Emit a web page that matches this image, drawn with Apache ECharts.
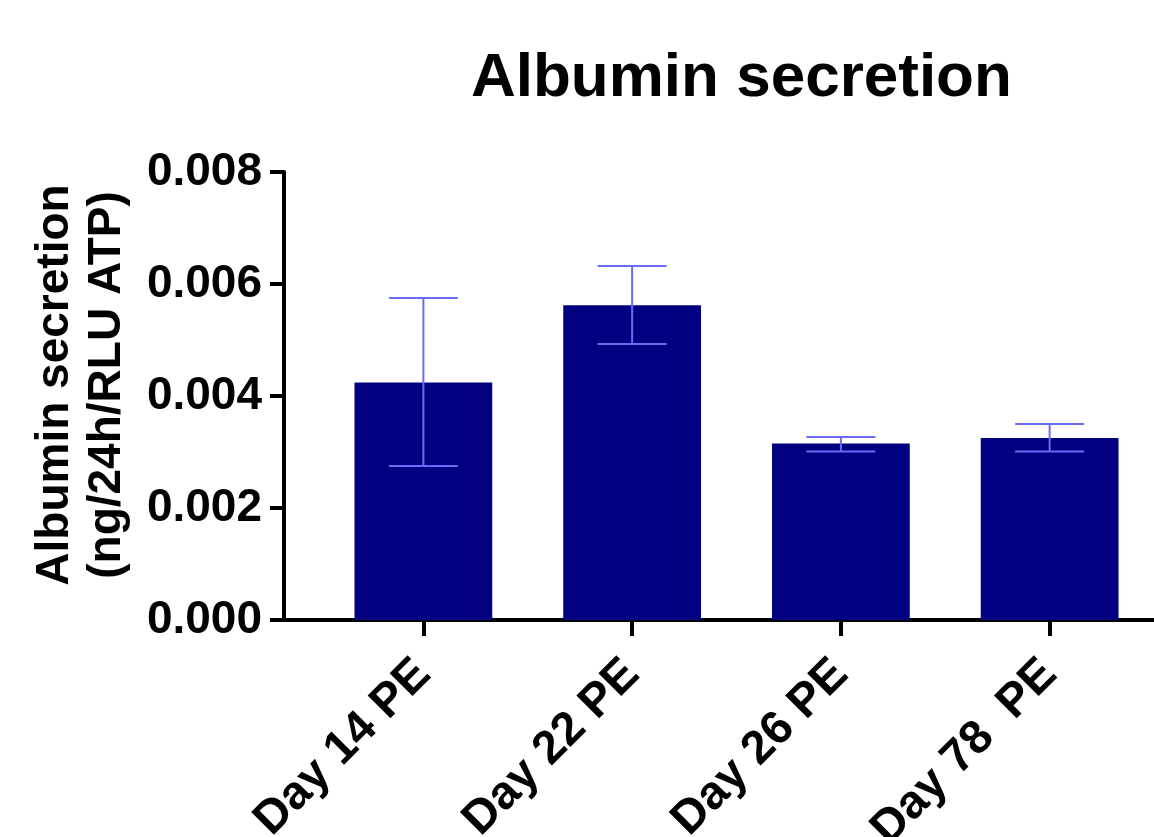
<!DOCTYPE html>
<html>
<head>
<meta charset="utf-8">
<script src="https://cdn.jsdelivr.net/npm/echarts@6/dist/echarts.min.js"></script>
<style>html,body{margin:0;padding:0;background:#fff}#c{width:1154px;height:837px}</style>
</head>
<body>
<div id="c"></div>
<script>
const categories = ['Day 14 PE', 'Day 22 PE', 'Day 26 PE', 'Day 78  PE'];
const meanValues = [0.00424, 0.00562, 0.00315, 0.00325];
const errLow = [0.00275, 0.00493, 0.00301, 0.00301];
const errHigh = [0.00575, 0.00632, 0.00327, 0.00350];
const yTicks = [0, 0.002, 0.004, 0.006, 0.008];

const FONT = '"Liberation Sans", Arial, sans-serif';
const GRID_LEFT = 319, Y_OFFSET = 35;

const chart = echarts.init(document.getElementById('c'), null, {renderer: 'canvas'});
const errData = categories.map((c, i) => [i, errLow[i], errHigh[i]]);

chart.setOption({
  animation: false,
  backgroundColor: '#fff',
  title: {
    text: 'Albumin secretion',
    left: 466, top: 43,
    textStyle: {fontFamily: FONT, fontWeight: 'bold', fontSize: 62, color: '#000'}
  },
  grid: {left: GRID_LEFT, right: 0, top: 172, bottom: 217, containLabel: false, outerBoundsMode: 'none'},
  xAxis: {
    type: 'category',
    data: categories,
    axisLine: {show: true, lineStyle: {color: '#000', width: 4}},
    axisTick: {show: true, alignWithLabel: true, length: 16, lineStyle: {color: '#000', width: 4}},
    axisLabel: {rotate: 45, margin: 47, fontFamily: FONT, fontWeight: 'bold', fontSize: 47, color: '#000', interval: 0}
  },
  yAxis: {
    type: 'value',
    min: yTicks[0], max: yTicks[yTicks.length - 1], interval: yTicks[1] - yTicks[0],
    offset: Y_OFFSET,
    name: 'Albumin secretion\n(ng/24h/RLU ATP)',
    nameLocation: 'middle',
    nameGap: 151,
    nameTextStyle: {fontFamily: FONT, fontWeight: 'bold', fontSize: 46, color: '#000', lineHeight: 52,
      padding: [0, 0, 0, 22]},
    axisLine: {show: true, lineStyle: {color: '#000', width: 4}},
    axisTick: {show: true, length: 14, lineStyle: {color: '#000', width: 4}},
    splitLine: {show: false},
    axisLabel: {margin: 22, fontFamily: FONT, fontWeight: 'bold', fontSize: 46, color: '#000',
      formatter: v => v.toFixed(3)}
  },
  series: [
    {
      type: 'bar',
      data: meanValues,
      barWidth: '66%',
      itemStyle: {color: '#000080'}
    },
    {
      type: 'custom',
      data: errData,
      z: 10,
      renderItem: function (params, api) {
        const i = api.value(0);
        const lo = api.coord([i, api.value(1)]);
        const hi = api.coord([i, api.value(2)]);
        const half = api.size([1, 0])[0] * 0.165;
        const style = {stroke: '#6a6af8', lineWidth: 2};
        return {
          type: 'group',
          children: [
            {type: 'line', shape: {x1: lo[0], y1: lo[1], x2: hi[0], y2: hi[1]}, style},
            {type: 'line', shape: {x1: lo[0] - half, y1: lo[1], x2: lo[0] + half, y2: lo[1]}, style},
            {type: 'line', shape: {x1: hi[0] - half, y1: hi[1], x2: hi[0] + half, y2: hi[1]}, style}
          ]
        };
      }
    }
  ]
});

// extend the x axis line left to meet the offset y axis
const y0 = chart.convertToPixel({yAxisIndex: 0}, 0);
chart.setOption({
  graphic: [{
    type: 'line', z: 5,
    shape: {x1: GRID_LEFT - Y_OFFSET - 2, y1: y0, x2: GRID_LEFT + 2, y2: y0},
    style: {stroke: '#000', lineWidth: 4}
  }]
});
</script>
</body>
</html>
